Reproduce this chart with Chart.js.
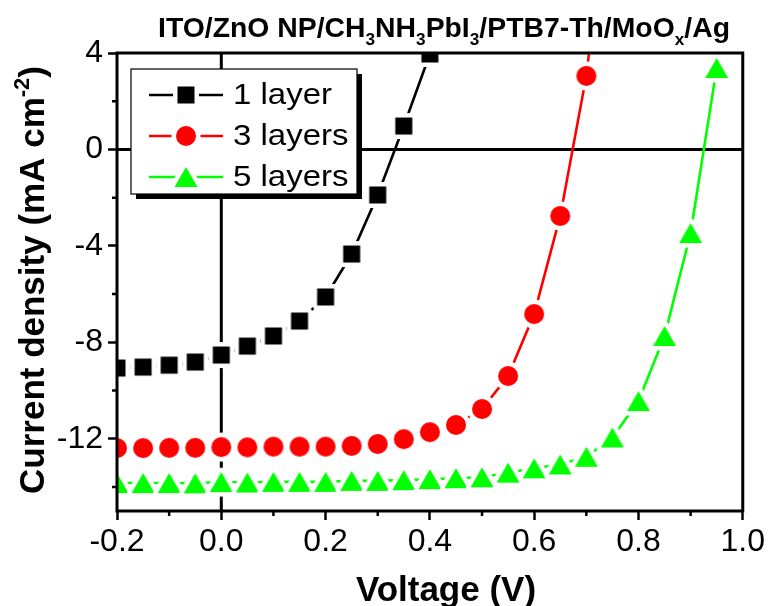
<!DOCTYPE html>
<html>
<head>
<meta charset="utf-8">
<script src="https://cdn.jsdelivr.net/npm/chart.js@4.4.1/dist/chart.umd.min.js"></script>
<style>
  html, body { margin: 0; padding: 0; background: #fff; }
  #wrap { position: relative; width: 768px; height: 606px; }
</style>
</head>
<body>
<div id="wrap"><canvas id="jvChart" width="768" height="606"></canvas></div>
<script>
// J-V curves, one value per 0.05 V step starting at -0.2 V
const voltage = [-0.2, -0.15, -0.1, -0.05, 0.0, 0.05, 0.1, 0.15, 0.2, 0.25, 0.3, 0.35, 0.4,
                 0.45, 0.5, 0.55, 0.6, 0.65, 0.7, 0.75, 0.8, 0.85, 0.9, 0.95, 1.0];
const layer1 = [-9.07, -9.03, -8.95, -8.82, -8.53, -8.16, -7.74, -7.12, -6.12, -4.34, -1.89, 0.97, 3.96];
const layer3 = [-12.39, -12.39, -12.38, -12.38, -12.35, -12.36, -12.33, -12.33, -12.33, -12.30, -12.22,
                -12.02, -11.73, -11.43, -10.77, -9.40, -6.83, -2.76, 3.05, 12.2];
const layer5 = [-13.84, -13.84, -13.84, -13.85, -13.80, -13.82, -13.79, -13.79, -13.79, -13.75, -13.75,
                -13.72, -13.68, -13.64, -13.60, -13.41, -13.23, -13.07, -12.75, -11.95, -10.44,
                -7.74, -3.47, 3.38, 13.5];

const seriesNames = ["1 layer", "3 layers", "5 layers"];
const seriesColors = ["#000000", "#ff0000", "#00ff00"];
const seriesShapes = ["square", "circle", "triangle"];

const xTicks = [-0.2, 0.0, 0.2, 0.4, 0.6, 0.8, 1.0];
const yTicks = [-12, -8, -4, 0, 4];

const FONT = "'Liberation Sans', Arial, sans-serif";

// symbol with a white rim, so the line stops short of it
function makeMarker(shape, color) {
    const gap = 4.5;
    const c = document.createElement("canvas");
    c.width = 40;
    c.height = 40;
    const g = c.getContext("2d");
    const cx = 20, cy = 20;
    g.beginPath();
    if (shape === "square") {
        g.rect(cx - 8.5, cy - 8.5, 17, 17);
    } else if (shape === "circle") {
        g.arc(cx, cy, 10, 0, Math.PI * 2);
    } else {
        g.moveTo(cx, cy - 10);
        g.lineTo(cx + 11.5, cy + 10);
        g.lineTo(cx - 11.5, cy + 10);
        g.closePath();
    }
    g.lineJoin = "round";
    g.lineWidth = gap * 2;
    g.strokeStyle = "#ffffff";
    g.stroke();
    g.fillStyle = color;
    g.fill();
    return c;
}

const markers = seriesShapes.map((s, i) => makeMarker(s, seriesColors[i]));

function toPoints(values) {
    return values.map((v, i) => ({ x: voltage[i], y: v }));
}

const datasets = [layer1, layer3, layer5].map((vals, i) => ({
    label: seriesNames[i],
    data: toPoints(vals),
    borderColor: seriesColors[i],
    backgroundColor: seriesColors[i],
    borderWidth: 2.6,
    tension: 0,
    pointStyle: markers[i],
    pointRadius: 10,
    pointHoverRadius: 10,
    clip: 0
}));

// draws text pieces with sub/superscripts, returns width
function richText(ctx, parts, x, y, size, measureOnly) {
    let w = 0;
    parts.forEach(p => {
        const s = p.sub || p.sup ? Math.round(size * 0.62) : size;
        ctx.font = "bold " + s + "px " + FONT;
        const dy = p.sub ? size * 0.3 : (p.sup ? -size * 0.42 : 0);
        if (!measureOnly) ctx.fillText(p.t, x + w, y + dy);
        w += ctx.measureText(p.t).width;
    });
    return w;
}

const titleParts = [
    { t: "ITO/ZnO NP/CH" }, { t: "3", sub: true }, { t: "NH" }, { t: "3", sub: true },
    { t: "PbI" }, { t: "3", sub: true }, { t: "/PTB7-Th/MoO" }, { t: "x", sub: true }, { t: "/Ag" }
];
const yTitleParts = [{ t: "Current density (mA cm" }, { t: "-2", sup: true }, { t: ")" }];

const decorations = {
    id: "decorations",
    beforeDatasetsDraw(chart) {
        const { ctx, chartArea: a, scales } = chart;
        const x0 = scales.x.getPixelForValue(0);
        const y0 = scales.y.getPixelForValue(0);
        ctx.save();
        ctx.strokeStyle = "#000";
        ctx.lineWidth = 3;
        ctx.beginPath();
        ctx.moveTo(x0, a.top);
        ctx.lineTo(x0, a.bottom);
        ctx.moveTo(a.left, y0);
        ctx.lineTo(a.right, y0);
        ctx.stroke();
        ctx.restore();
    },
    afterDatasetsDraw(chart) {
        const { ctx, chartArea: a, scales } = chart;
        ctx.save();
        ctx.strokeStyle = "#000";
        ctx.lineWidth = 3;
        ctx.strokeRect(a.left, a.top, a.right - a.left, a.bottom - a.top);
        // minor ticks halfway between the labelled ones
        ctx.lineWidth = 2.5;
        ctx.beginPath();
        for (let i = 0; i < xTicks.length - 1; i++) {
            const px = scales.x.getPixelForValue((xTicks[i] + xTicks[i + 1]) / 2);
            ctx.moveTo(px, a.bottom);
            ctx.lineTo(px, a.bottom + 5);
        }
        for (let v = -14; v <= 4; v += 4) {
            const py = scales.y.getPixelForValue(v);
            ctx.moveTo(a.left, py);
            ctx.lineTo(a.left - 5, py);
        }
        ctx.stroke();
        ctx.restore();
    },
    afterDraw(chart) {
        const { ctx } = chart;
        ctx.save();
        ctx.fillStyle = "#000";
        ctx.textBaseline = "alphabetic";

        // title, set in a narrow bold face
        const tw = richText(ctx, titleParts, 0, 0, 28, true);
        ctx.save();
        ctx.translate(158, 37);
        ctx.scale(572 / tw, 1);
        richText(ctx, titleParts, 0, 0, 28, false);
        ctx.restore();

        // x axis title
        ctx.font = "bold 35px " + FONT;
        ctx.textAlign = "center";
        ctx.fillText("Voltage (V)", 446, 601);
        ctx.textAlign = "left";

        // y axis title
        const yw = richText(ctx, yTitleParts, 0, 0, 35, true);
        ctx.save();
        ctx.translate(44, 280);
        ctx.rotate(-Math.PI / 2);
        richText(ctx, yTitleParts, -yw / 2, 0, 35, false);
        ctx.restore();

        // legend box with drop shadow
        const bx = 131, by = 69, bw = 226, bh = 125;
        ctx.fillStyle = "#000";
        ctx.fillRect(bx + 5, by + 5, bw, bh);
        ctx.fillStyle = "#fff";
        ctx.fillRect(bx, by, bw, bh);
        ctx.strokeStyle = "#000";
        ctx.lineWidth = 1.2;
        ctx.strokeRect(bx, by, bw, bh);
        const rows = [95, 136, 177];
        seriesNames.forEach((name, i) => {
            const ry = rows[i];
            ctx.strokeStyle = seriesColors[i];
            ctx.lineWidth = 2.6;
            ctx.beginPath();
            ctx.moveTo(149, ry);
            ctx.lineTo(223, ry);
            ctx.stroke();
            const m = markers[i];
            ctx.drawImage(m, 186 - m.width / 2, ry - m.height / 2);
            ctx.save();
            ctx.fillStyle = "#000";
            ctx.font = "30px " + FONT;
            ctx.textBaseline = "middle";
            ctx.translate(233, ry + 1);
            ctx.scale(1.1, 1);
            ctx.fillText(name, 0, 0);
            ctx.restore();
        });
        ctx.restore();
    }
};

new Chart(document.getElementById("jvChart"), {
    type: "line",
    data: { datasets: datasets },
    options: {
        responsive: false,
        animation: false,
        events: [],
        layout: { padding: { top: 53, right: 25, bottom: 0, left: 0 } },
        plugins: { legend: { display: false }, title: { display: false }, tooltip: { enabled: false } },
        scales: {
            x: {
                type: "linear",
                min: -0.2,
                max: 1.0,
                afterFit: s => { s.height = 95; },
                afterBuildTicks: s => { s.ticks = xTicks.map(v => ({ value: v })); },
                border: { display: false },
                grid: { drawOnChartArea: false, drawTicks: true, tickLength: 9, tickWidth: 2.5, tickColor: "#000" },
                ticks: {
                    color: "#000",
                    padding: 3,
                    font: { family: FONT, size: 32 },
                    callback: v => v.toFixed(1)
                }
            },
            y: {
                type: "linear",
                min: -15,
                max: 4,
                afterFit: s => { s.width = 117; },
                afterBuildTicks: s => { s.ticks = yTicks.map(v => ({ value: v })); },
                border: { display: false },
                grid: { drawOnChartArea: false, drawTicks: true, tickLength: 9, tickWidth: 2.5, tickColor: "#000" },
                ticks: {
                    color: "#000",
                    padding: 5,
                    font: { family: FONT, size: 32 },
                    callback: v => String(v)
                }
            }
        }
    },
    plugins: [decorations]
});
</script>
</body>
</html>
